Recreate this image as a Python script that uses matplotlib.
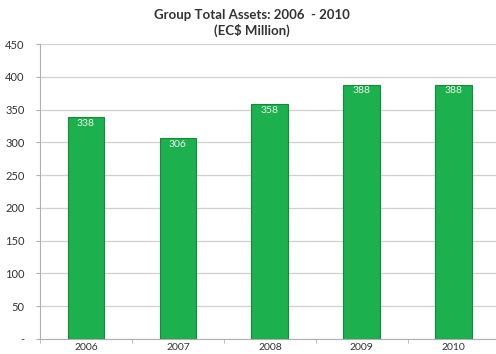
import matplotlib.pyplot as plt

years = ['2006', '2007', '2008', '2009', '2010']
assets = [338, 306, 358, 388, 388]

plt.rcParams['font.family'] = ['Lato', 'DejaVu Sans']

fig = plt.figure(figsize=(4.96, 3.54), dpi=100)
ax = fig.add_axes([0.0806, 0.0424, 0.927, 0.8333])

x = range(len(years))
bars = ax.bar(x, assets, width=0.4, color='#1db04f', edgecolor='#14893c', linewidth=0.8, zorder=3)
for xi, v in zip(x, assets):
    ax.text(xi, v - 2, str(v), ha='center', va='top', color='#e8f5e8', fontsize=7.5, zorder=4)

ax.set_xlim(-0.5, len(years) - 0.5)
ax.set_ylim(0, 450)
ax.set_yticks(range(0, 451, 50))
ax.set_yticklabels(['-'] + [str(v) for v in range(50, 451, 50)], fontsize=8, color='#333333')
ax.set_xticks(list(x))
ax.set_xticklabels(years, fontsize=7.5, color='#333333')
ax.set_xticks([i + 0.5 for i in range(-1, len(years))], minor=True)
ax.tick_params(axis='x', which='major', length=0, pad=3)
ax.tick_params(axis='x', which='minor', length=3, color='#b0b0b0')
ax.tick_params(axis='y', length=3, color='#b0b0b0', pad=8)
ax.yaxis.grid(True, color='#d6cfcf', linewidth=0.9, zorder=0)
for s in ['top', 'right']:
    ax.spines[s].set_visible(False)
ax.spines['left'].set_color('#b0b0b0')
ax.spines['bottom'].set_color('#b0b0b0')

fig.text(0.508, 0.958, 'Group Total Assets: 2006  - 2010', ha='center', va='center',
         fontsize=9.5, fontweight='bold', color='#333333')
fig.text(0.508, 0.913, '(EC$ Million)', ha='center', va='center',
         fontsize=9.5, fontweight='bold', color='#333333')

plt.savefig('out.png', dpi=100)
